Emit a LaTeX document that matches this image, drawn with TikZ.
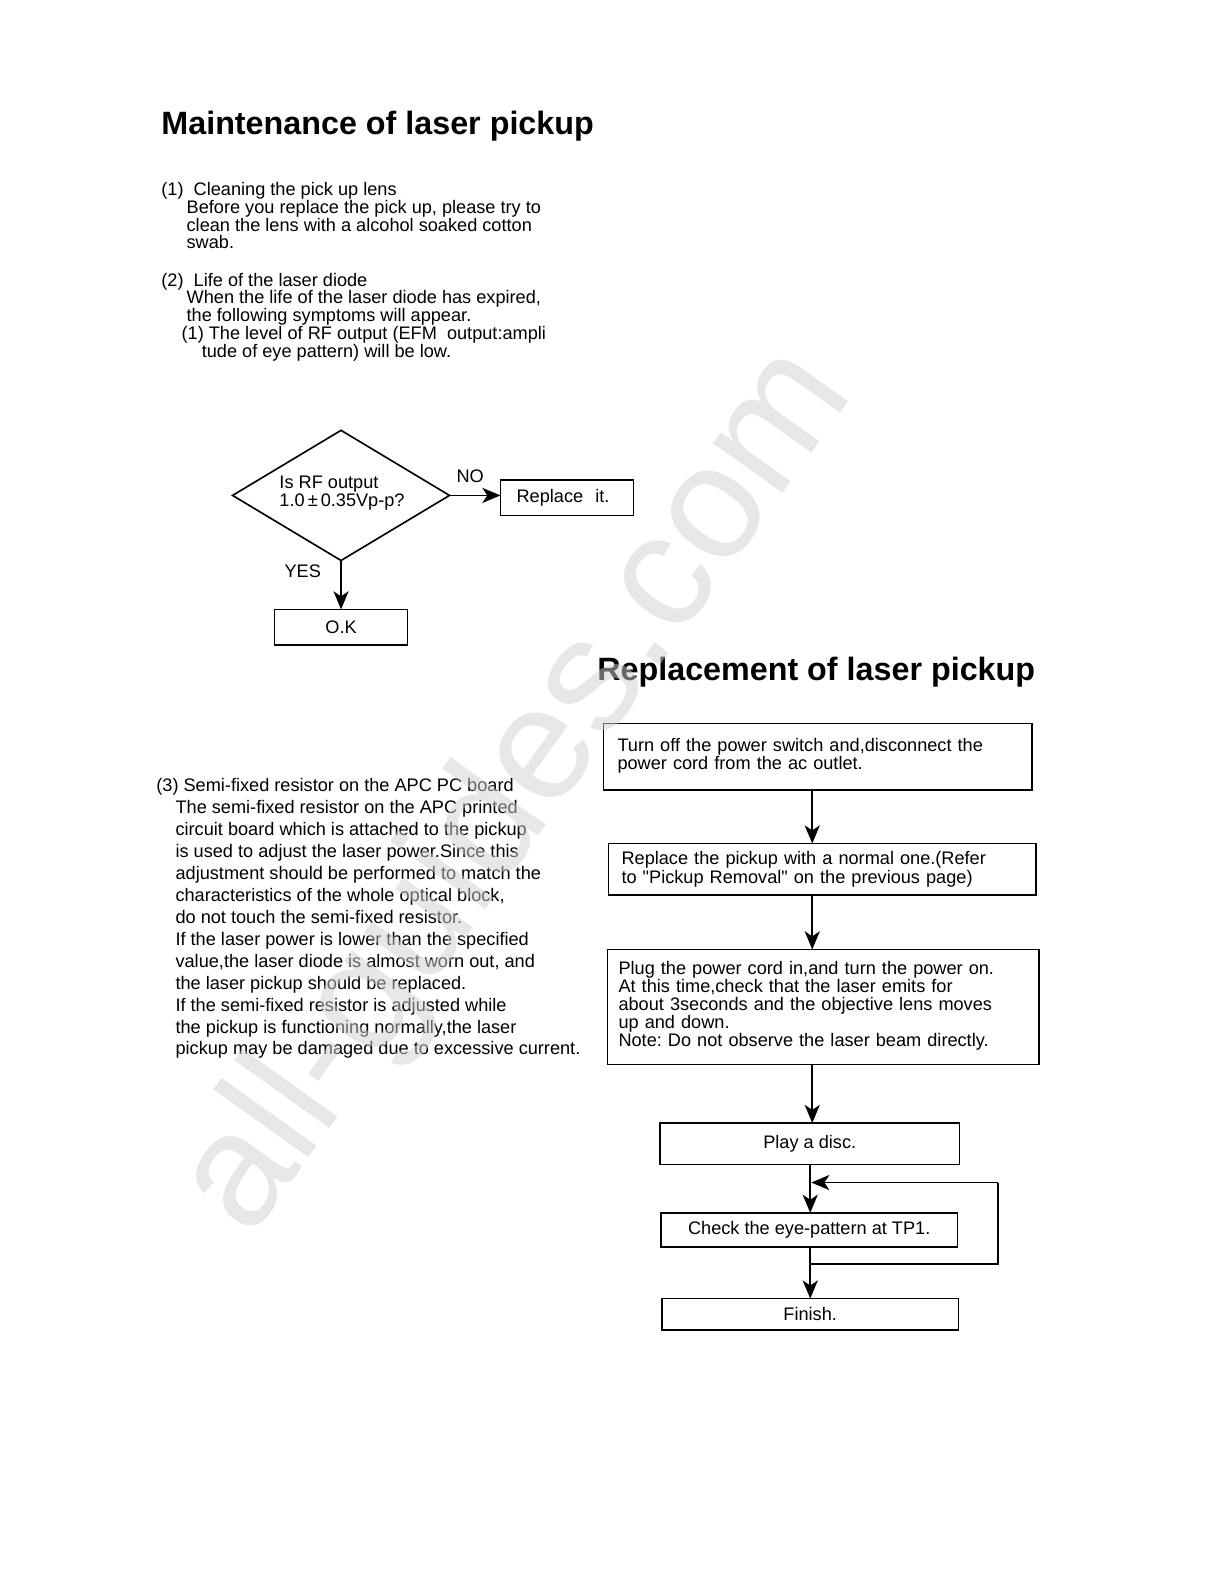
\documentclass[tikz,border=0pt]{standalone}
\usepackage{fontspec}
\setmainfont{Liberation Sans}
\newfontfamily\plainq{Liberation Sans}[Ligatures=TeXOff]
\usetikzlibrary{shapes.geometric,arrows.meta}
\frenchspacing
\begin{document}
\begin{tikzpicture}[x=1pt,y=-1pt,
  every node/.style={inner sep=0pt,outer sep=0pt},
  title/.style={font=\fontsize{32}{34}\selectfont\bfseries,anchor=base west},
  para/.style={font=\fontsize{18}{17.7}\selectfont,align=left,anchor=north west},
  parathree/.style={font=\fontsize{18}{21.75}\selectfont,align=left,anchor=north west},
  box/.style={draw,line width=1.6pt,font=\fontsize{18}{18}\selectfont},
  lbox/.style={box,align=left},
  lbl/.style={font=\fontsize{18}{18}\selectfont},
  conn/.style={line width=1.6pt,-{Stealth[length=18pt,width=15pt,inset=5pt]}},
  plain/.style={line width=1.6pt}
]
\useasboundingbox (0,0) rectangle (1208.1,1567.9);
\fill[white] (0,0) rectangle (1240,1600);

% titles
\node[title] (t1) at (160,133) {Maintenance of laser pickup};
\node[title] (t2) at (592,674) {Replacement of laser pickup};

% paragraphs
\node[para] (p1) at (160,180.5) {(1)\ \ Cleaning the pick up lens\\
\hspace*{25pt}Before you replace the pick up, please try to\\
\hspace*{25pt}clean the lens with a alcohol soaked cotton\\
\hspace*{25pt}swab.};
\node[para] (p2) at (160,270.5) {(2)\ \ Life of the laser diode\\
\hspace*{25pt}When the life of the laser diode has expired,\\
\hspace*{25pt}the following symptoms will appear.\\
\hspace*{20pt}(1) The level of RF output (EFM\ \ output:ampli\\
\hspace*{40pt}tude of eye pattern) will be low.};
\node[parathree] (p3) at (155,771.5) {(3) Semi-fixed resistor on the APC PC board\\
\hspace*{19pt}The semi-fixed resistor on the APC printed\\
\hspace*{19pt}circuit board which is attached to the pickup\\
\hspace*{19pt}is used to adjust the laser power.Since this\\
\hspace*{19pt}adjustment should be performed to match the\\
\hspace*{19pt}characteristics of the whole optical block,\\
\hspace*{19pt}do not touch the semi-fixed resistor.\\
\hspace*{19pt}If the laser power is lower than the specified\\
\hspace*{19pt}value,the laser diode is almost worn out, and\\
\hspace*{19pt}the laser pickup should be replaced.\\
\hspace*{19pt}If the semi-fixed resistor is adjusted while\\
\hspace*{19pt}the pickup is functioning normally,the laser\\
\hspace*{19pt}pickup may be damaged due to excessive current.};

% decision flowchart
\node[diamond,draw,line width=1.6pt,minimum width=215pt,minimum height=129pt] (dia) at (338,491) {};
\node[font=\fontsize{18}{18}\selectfont,align=left,anchor=north west] (diatext) at (277,471.5) {Is RF output\\1.0\hspace{3pt}±\hspace{3pt}0.35Vp-p?};
\node[box,align=left,text width=100pt,inner xsep=16pt,minimum height=35pt] (repl) at (562,493.5) {Replace\ \ it.};
\node[box,minimum width=132pt,minimum height=35pt] (ok) at (338,621.5) {O.K};
\node[lbl] (no) at (466,472) {NO};
\node[lbl] (yes) at (300,566) {YES};
\draw[conn] (dia.east) -- (dia.east -| repl.west);
\draw[conn] (dia.south) -- (ok.north);

% replacement flowchart
\node[lbox,text width=397pt,inner xsep=14pt,minimum height=66pt,anchor=north west] (b1) at (598,717)
  {Turn off the power switch and,disconnect the\\power cord from the ac outlet.\\[-12pt]\mbox{}};
\node[lbox,text width=398pt,inner xsep=13pt,minimum height=51pt,anchor=north west] (b2) at (603,836)
  {Replace the pickup with a normal one.(Refer\\to {\plainq"}Pickup Removal{\plainq"} on the previous page)};
\node[lbox,text width=406pt,inner xsep=11pt,minimum height=114pt,anchor=north west] (b3) at (602,941)
  {Plug the power cord in,and turn the power on.\\At this time,check that the laser emits for\\about 3seconds and the objective lens moves\\up and down.\\Note: Do not observe the laser beam directly.\\[-12pt]\mbox{}};
\node[box,minimum width=297pt,minimum height=41pt] (b4) at (802.5,1133.5) {Play a disc.};
\node[box,minimum width=294pt,minimum height=34pt] (b5) at (802,1219) {Check the eye-pattern at TP1.};
\node[box,minimum width=294pt,minimum height=31pt] (b6) at (803,1302.5) {Finish.};

\draw[conn] (b1.south -| 805,0) -- (b2.north -| 805,0);
\draw[conn] (b2.south -| 805,0) -- (b3.north -| 805,0);
\draw[conn] (b3.south -| 805,0) -- (b4.north -| 805,0);
\draw[conn] (b4.south -| 803,0) -- (b5.north -| 803,0);
\draw[conn] (b5.south -| 803,0) -- (b6.north -| 803,0);
\coordinate (lp1) at (803,1253);
\coordinate (lp2) at (989,1253);
\coordinate (lp3) at (989,1172);
\coordinate (lp4) at (804,1172);
\draw[plain] (lp1) -- (lp2) -- (lp3);
\draw[conn] (lp3) -- (lp4);

% watermark
\node[rotate=54.5,font=\fontsize{160}{160}\selectfont,text=black!18,text opacity=0.5] (wm) at (514,785) {all-guides.com};
\end{tikzpicture}
\end{document}
